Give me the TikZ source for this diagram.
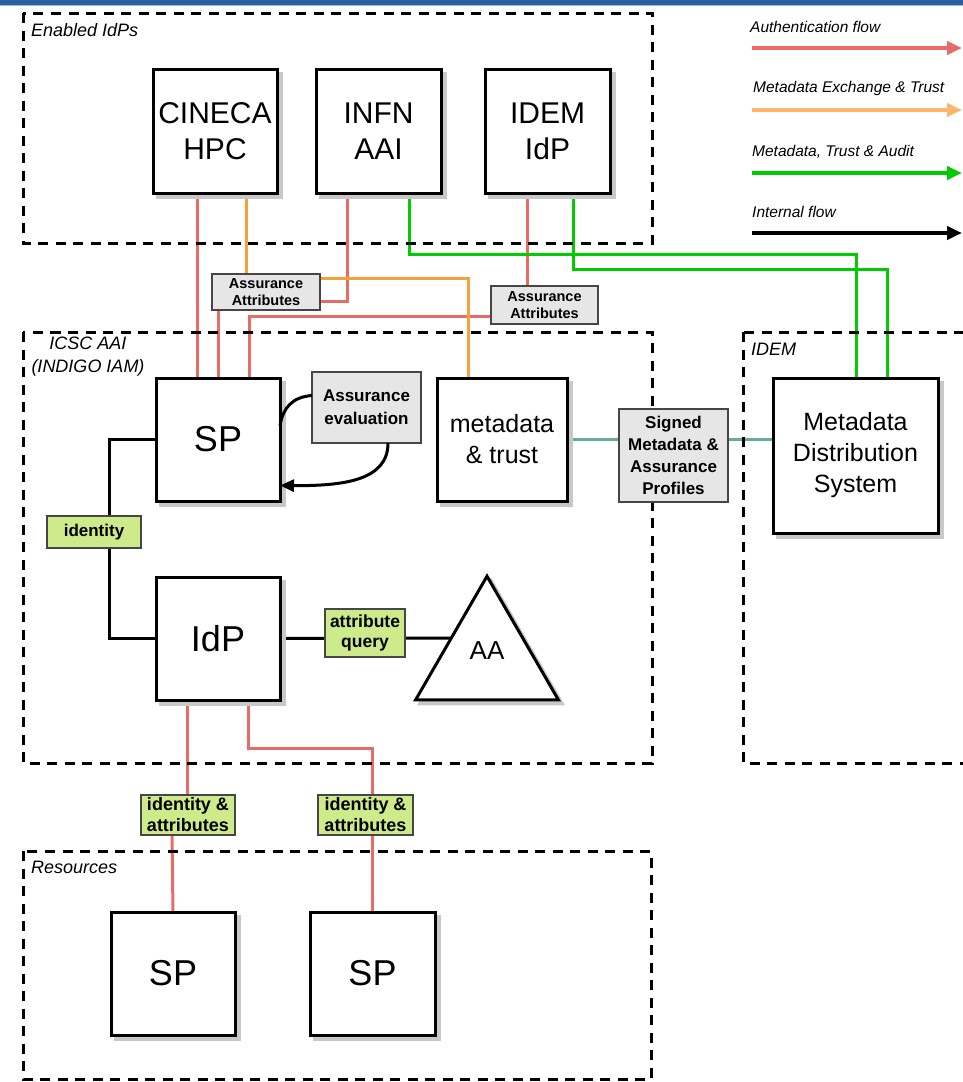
\documentclass[tikz,border=0pt]{standalone}
\usepackage{fontspec}
\setmainfont{Liberation Sans}
\usetikzlibrary{shapes.geometric,arrows.meta}
\pgfdeclarelayer{background}
\pgfsetlayers{background,main}
\newcommand\myfs[2]{\fontsize{#1}{#2}\selectfont}
\definecolor{authred}{RGB}{234,107,102}
\definecolor{metaor}{RGB}{247,160,60}
\definecolor{metaorl}{RGB}{255,181,112}
\definecolor{trustgr}{RGB}{0,204,0}
\definecolor{tealc}{RGB}{103,171,159}
\definecolor{lgray}{RGB}{230,230,230}
\definecolor{lgreen}{RGB}{205,235,139}
\definecolor{bordg}{RGB}{70,70,70}
\definecolor{topblue}{RGB}{44,94,160}
\definecolor{topbluel}{RGB}{150,185,225}
\definecolor{shadowc}{RGB}{200,200,200}
\begin{document}
\begin{tikzpicture}[x=1pt,y=-1pt,
  shad/.style={preaction={draw=shadowc,fill=shadowc,transform canvas={xshift=4pt,yshift=-4pt}}},
  box/.style={draw,line width=3pt,fill=white,inner sep=0pt,outer sep=0pt,align=center,anchor=north west,shad},
  graylbl/.style={draw=bordg,line width=1.5pt,fill=lgray,inner sep=0pt,outer sep=0pt,align=center,anchor=north west},
  greenlbl/.style={draw=bordg,line width=1.5pt,fill=lgreen,inner sep=0pt,outer sep=0pt,align=center,anchor=north west},
  region/.style={line width=3pt,dash pattern=on 10pt off 7.5pt},
  regionlbl/.style={anchor=base west,inner sep=0pt,font=\itshape\myfs{18}{23}},
  legendlbl/.style={anchor=base west,inner sep=0pt,font=\itshape\myfs{15.5}{18}},
  authl/.style={draw=authred,line width=3pt},
  metal/.style={draw=metaor,line width=3pt},
  greenl/.style={draw=trustgr,line width=3pt},
  teall/.style={draw=tealc,line width=3pt},
  blackl/.style={draw=black,line width=3pt},
  legarrow/.style={line width=4pt,-{Triangle[length=15pt,width=13pt]}}
]
\useasboundingbox (0,0) rectangle (963,1082);
\clip (0,0) rectangle (963,1082);
% top bar
\fill[topblue] (0,0) rectangle (963,4.5);
\fill[topbluel] (0,4.5) rectangle (963,6);

% regions
\draw[region] (23,13) rectangle (652,243);
\draw[region] (23,332) rectangle (652,763);
\draw[region] (743,332) rectangle (1000,763);
\draw[region] (23,851) rectangle (651,1079);
\node[regionlbl] (lblenabled) at (31,36) {Enabled IdPs};
\node[anchor=north,inner sep=0pt,align=center,font=\itshape\myfs{18}{23}] (lblicsc) at (88,337) {ICSC AAI\\(INDIGO IAM)};
\node[regionlbl] (lblidem) at (751,355) {IDEM};
\node[regionlbl] (lblres) at (31,873) {Resources};

% legend
\node[legendlbl] (lt1) at (750,32) {Authentication flow};
\node[legendlbl] (lt2) at (753,92) {Metadata Exchange \& Trust};
\node[legendlbl] (lt3) at (752,156) {Metadata, Trust \& Audit};
\node[legendlbl] (lt4) at (752,217) {Internal flow};
\coordinate (la1) at (752,48); \coordinate (lb1) at (962,48);
\coordinate (la2) at (752,110); \coordinate (lb2) at (962,110);
\coordinate (la3) at (752,173); \coordinate (lb3) at (962,173);
\coordinate (la4) at (752,233); \coordinate (lb4) at (962,233);
\draw[legarrow,draw=authred,fill=authred] (la1) -- (lb1);
\draw[legarrow,draw=metaorl,fill=metaorl] (la2) -- (lb2);
\draw[legarrow,draw=trustgr,fill=trustgr] (la3) -- (lb3);
\draw[legarrow,draw=black,fill=black] (la4) -- (lb4);

% main boxes
\node[box,minimum width=124pt,minimum height=124pt,font=\myfs{30}{36}] (cineca) at (153,69) {CINECA\\HPC};
\node[box,minimum width=125pt,minimum height=124pt,font=\myfs{30}{36}] (infn) at (316,69) {INFN\\AAI};
\node[box,minimum width=125pt,minimum height=124pt,font=\myfs{30}{36}] (idemidp) at (485,69) {IDEM\\IdP};
\node[box,minimum width=124pt,minimum height=123pt,font=\myfs{36}{40}] (sp) at (156,378) {SP};
\node[box,minimum width=130pt,minimum height=123pt,font=\myfs{25}{31}] (mt) at (437,378) {metadata\\\& trust};
\node[box,minimum width=165pt,minimum height=155pt,font=\myfs{25}{31}] (mds) at (773,378) {Metadata\\Distribution\\System};
\node[box,minimum width=124pt,minimum height=123pt,font=\myfs{36}{40}] (idp) at (156,577) {IdP};
\node[box,minimum width=124pt,minimum height=123pt,font=\myfs{36}{40}] (sp1) at (111,912) {SP};
\node[box,minimum width=125pt,minimum height=123pt,font=\myfs{36}{40}] (sp2) at (310,912) {SP};
\node[regular polygon,regular polygon sides=3,minimum size=165pt,draw,line width=3pt,fill=white,inner sep=0pt,outer sep=0pt,shad] (aa) at (487,658.7) {};
\node[inner sep=0pt,font=\myfs{26}{30}] (aatext) at (487,651) {AA};

% labels
\node[graylbl,minimum width=108pt,minimum height=36pt,font=\bfseries\myfs{14.5}{17.5}] (aattr1) at (212,274) {Assurance\\Attributes};
\node[graylbl,minimum width=107pt,minimum height=38pt,font=\bfseries\myfs{14.5}{17.5}] (aattr2) at (491,286) {Assurance\\Attributes};
\node[graylbl,minimum width=109pt,minimum height=71pt,font=\bfseries\myfs{17}{23}] (asseval) at (312,372) {Assurance\\evaluation};
\node[graylbl,minimum width=109pt,minimum height=93pt,font=\bfseries\myfs{17}{22}] (signed) at (619,409) {Signed\\Metadata \&\\Assurance\\Profiles};
\node[greenlbl,minimum width=94pt,minimum height=32pt,font=\bfseries\myfs{17}{20}] (ident) at (47,516) {identity};
\node[greenlbl,minimum width=80pt,minimum height=48pt,font=\bfseries\myfs{17.5}{20}] (attrq) at (325,609) {attribute\\query};
\node[greenlbl,minimum width=94pt,minimum height=40pt,font=\bfseries\myfs{18}{21}] (ia1) at (141,795) {identity \&\\attributes};
\node[greenlbl,minimum width=95pt,minimum height=40pt,font=\bfseries\myfs{18}{21}] (ia2) at (318,795) {identity \&\\attributes};

\begin{pgfonlayer}{background}
% authentication (red)
\draw[authl] ([xshift=44pt]cineca.south west) -- ([xshift=41pt]sp.north west);
\draw[authl] ([xshift=6pt]aattr1.south west) -- ([xshift=62pt]sp.north west);
\draw[authl] ([xshift=31pt]infn.south west) |- ([yshift=9pt]aattr1.south east);
\draw[authl] ([xshift=42pt]idemidp.south west) -- ([xshift=36pt]aattr2.north west);
\draw[authl] ([yshift=8pt]aattr2.south west) -| ([xshift=93pt]sp.north west);
\draw[authl] ([xshift=31pt]idp.south west) -- ([xshift=46pt]ia1.north west);
\draw[authl] ([xshift=31pt]ia1.south west) -- ([xshift=62pt]sp1.north west);
\draw[authl] ([xshift=92pt]idp.south west) -- ++(0,48) -| ([xshift=54pt]ia2.north west);
\draw[authl] ([xshift=54pt]ia2.south west) -- ([xshift=62pt]sp2.north west);
% metadata exchange (orange)
\draw[metal] ([xshift=93pt]cineca.south west) -- ([xshift=34pt]aattr1.north west);
\draw[metal] ([yshift=-4pt]aattr1.north east) -| ([xshift=31pt]mt.north west);
% metadata trust audit (green)
\draw[greenl] ([xshift=93pt]infn.south west) -- ++(0,61) -| ([xshift=83pt]mds.north west);
\draw[greenl] ([xshift=88pt]idemidp.south west) -- ++(0,76) -| ([xshift=114pt]mds.north west);
% teal
\draw[teall] (mt.east) -- (mt.east -| signed.west);
\draw[teall] (mt.east -| signed.east) -- (mt.east -| mds.west);
% internal
\draw[blackl] (sp.west) -- ++(-47,0) |- (idp.west);
\draw[blackl] (idp.east) -- (aa.side 1);
\end{pgfonlayer}
\draw[blackl] ([yshift=12pt]asseval.west) .. controls (292,397) and (283,408) .. ([yshift=14pt]sp.east);
\draw[blackl,-{Triangle[length=14pt,width=12pt]}] ([xshift=76pt]asseval.south west) .. controls (388,480) and (345,486) .. ([yshift=-46pt]sp.east);
\end{tikzpicture}
\end{document}
